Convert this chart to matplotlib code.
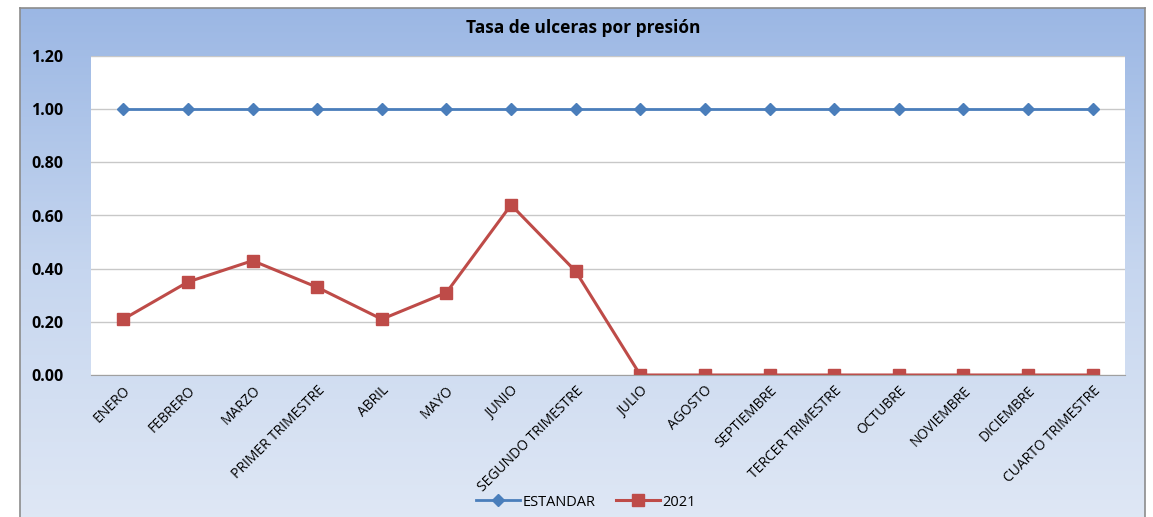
import numpy as np
import matplotlib
matplotlib.use("Agg")
import matplotlib.pyplot as plt
from matplotlib.colors import LinearSegmentedColormap

categories = ["ENERO", "FEBRERO", "MARZO", "PRIMER TRIMESTRE", "ABRIL", "MAYO",
              "JUNIO", "SEGUNDO TRIMESTRE", "JULIO", "AGOSTO", "SEPTIEMBRE",
              "TERCER TRIMESTRE", "OCTUBRE", "NOVIEMBRE", "DICIEMBRE",
              "CUARTO TRIMESTRE"]
estandar = [1.00] * 16
tasa_2021 = [0.21, 0.35, 0.43, 0.33, 0.21, 0.31, 0.64, 0.39,
             0.00, 0.00, 0.00, 0.00, 0.00, 0.00, 0.00, 0.00]
y_ticks = [0.0, 0.2, 0.4, 0.6, 0.8, 1.0, 1.2]

plt.rcParams['font.family'] = ['Open Sans', 'DejaVu Sans']

W, H = 1153, 517
fig = plt.figure(figsize=(W / 100, H / 100), dpi=100)

# chart frame with gradient background (bottom edge runs off the image)
x0, x1, y0, y1 = 20, 1145, 8, 530
bg = fig.add_axes([x0 / W, 1 - y1 / H, (x1 - x0) / W, (y1 - y0) / H])
cmap = LinearSegmentedColormap.from_list("bg", ["#9bb7e4", "#c6d6ef", "#e0e8f5"])
grad = np.linspace(0, 1, 256).reshape(-1, 1)
bg.imshow(grad, aspect="auto", cmap=cmap, extent=[0, 1, 0, 1], origin="upper")
bg.set_xticks([])
bg.set_yticks([])
for s in bg.spines.values():
    s.set_color("#8c8c8c")
    s.set_linewidth(1.2)

ax = fig.add_axes([91 / W, 1 - 375 / H, (1125 - 91) / W, (375 - 56) / H])
ax.set_facecolor("white")
x = np.arange(len(categories))
ax.plot(x, estandar, color="#4a7ebb", lw=2, marker="D", ms=6, label="ESTANDAR")
ax.plot(x, tasa_2021, color="#be4b48", lw=2.2, marker="s", ms=9, label="2021")

ax.set_xlim(-0.5, len(categories) - 0.5)
ax.set_ylim(0, 1.2)
ax.set_yticks(y_ticks)
ax.set_yticklabels([f"{v:.2f}" for v in y_ticks], fontsize=11.5, fontweight="bold")
ax.set_xticks(x)
ax.set_xticklabels(categories, rotation=45, ha="right", rotation_mode="anchor",
                   fontsize=10)
ax.tick_params(axis="both", length=0)
ax.tick_params(axis="x", pad=6)
ax.tick_params(axis="y", pad=20)
ax.grid(axis="y", color="#c8c8c8", lw=1)
ax.set_axisbelow(True)
for name, s in ax.spines.items():
    s.set_visible(name == "bottom")
ax.spines["bottom"].set_color("#a0a0a0")

fig.text(583 / W, 1 - 28 / H, "Tasa de ulceras por presión", ha="center",
         va="center", fontsize=12.5, fontweight="bold")

fig.legend(loc="center", bbox_to_anchor=(586 / W, 1 - 502 / H), ncol=2,
           frameon=False, fontsize=10.5, handlelength=3.0, handletextpad=0.2,
           columnspacing=1.4)

fig.savefig("out.png", dpi=100)
